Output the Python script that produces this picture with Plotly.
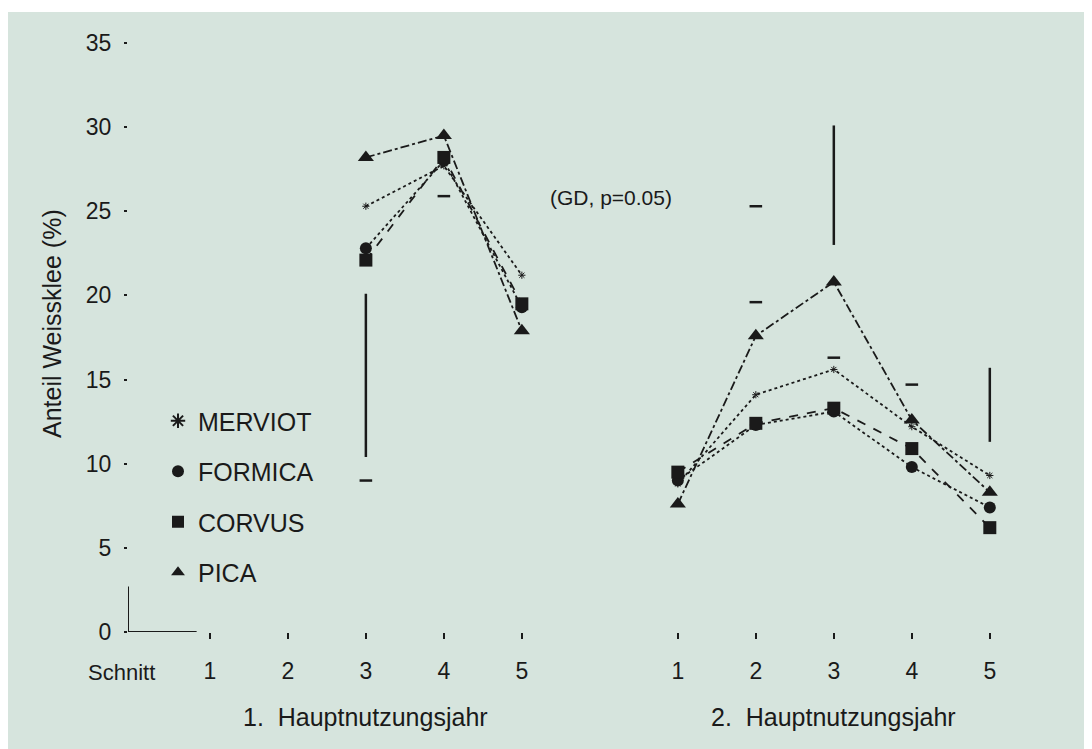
import plotly.graph_objects as go

# ---------------- data ----------------
schnitt_labels = ["1", "2", "3", "4", "5", "1", "2", "3", "4", "5"]
schnitt_pos = [1, 2, 3, 4, 5, 7, 8, 9, 10, 11]

merviot = [None, None, 25.3, 27.7, 21.2, 8.8, 14.1, 15.6, 12.2, 9.3]
formica = [None, None, 22.8, 28.0, 19.3, 9.0, 12.3, 13.1, 9.8, 7.4]
corvus = [None, None, 22.1, 28.2, 19.5, 9.5, 12.4, 13.3, 10.9, 6.2]
pica = [None, None, 28.2, 29.5, 17.9, 7.6, 17.6, 20.8, 12.6, 8.3]

gd_x = [3, 9, 11]
gd_low = [10.4, 23.0, 11.3]
gd_high = [20.1, 30.1, 15.7]

mark_x = [3, 4, 8, 8, 9, 10]
mark_y = [9.0, 25.9, 25.3, 19.6, 16.3, 14.7]

year_labels = ["1.  Hauptnutzungsjahr", "2.  Hauptnutzungsjahr"]
year_centers = [3, 9]

BG = "#d6e4dd"
INK = "#1a1a1a"
FONT = "Liberation Sans, Arial, sans-serif"

# figure geometry (page has an 8px body margin)
W, H = 1084, 741
ML, MR, MT, MB = 120, 32, 35, 117
PW, PH = W - ML - MR, H - MT - MB


def px(fx):
    return (fx - ML) / PW


def py(fy):
    return (H - MB - fy) / PH


def with_break(vals):
    xs, ys = [], []
    for i, (p, v) in enumerate(zip(schnitt_pos, vals)):
        if i == 5:
            xs.append(None)
            ys.append(None)
        xs.append(p)
        ys.append(v)
    return xs, ys


series = [
    ("MERVIOT", merviot, dict(symbol="asterisk-open", size=6, color=INK, line=dict(width=1, color=INK)), "dot"),
    ("FORMICA", formica, dict(symbol="circle", size=12, color=INK), "dot"),
    ("CORVUS", corvus, dict(symbol="square", size=13, color=INK), "dash"),
    ("PICA", pica, dict(symbol="triangle-up", size=14, color=INK), "dashdot"),
]

fig = go.Figure()

for name, vals, mk, dash in series:
    xs, ys = with_break(vals)
    fig.add_trace(go.Scatter(
        x=xs, y=ys, mode="lines", showlegend=False, hoverinfo="skip",
        line=dict(color=INK, width=1.8, dash=dash),
    ))

for name, vals, mk, dash in series:
    xs, ys = with_break(vals)
    fig.add_trace(go.Scatter(
        x=xs, y=ys, mode="markers", name=name, legendgroup=name,
        marker=mk,
    ))

# GD bars
for gx, lo, hi in zip(gd_x, gd_low, gd_high):
    fig.add_trace(go.Scatter(
        x=[gx, gx], y=[lo, hi], mode="lines", showlegend=False,
        line=dict(color=INK, width=2.5),
    ))

fig.add_trace(go.Scatter(
    x=mark_x, y=mark_y, mode="markers", showlegend=False,
    marker=dict(symbol="line-ew", size=9, line=dict(width=2.5, color=INK)),
))

# partial axis corner
fig.add_shape(type="line", x0=-0.05, x1=0.83, y0=0, y1=0,
              line=dict(color=INK, width=2))
fig.add_shape(type="line", x0=-0.05, x1=-0.05, y0=0, y1=2.7,
              line=dict(color=INK, width=2))

# thin white strip at the very top
fig.add_shape(type="rect", xref="paper", yref="paper",
              x0=px(0), x1=px(W), y0=py(4), y1=py(0),
              fillcolor="white", line=dict(width=0), layer="above")

fig.add_annotation(x=6.14, y=25.8, text="(GD, p=0.05)", showarrow=False,
                   font=dict(size=21, color=INK, family=FONT))
fig.add_annotation(xref="paper", yref="paper", x=px(113), y=py(664),
                   xanchor="center", yanchor="middle",
                   text="Schnitt", showarrow=False,
                   font=dict(size=22, color=INK, family=FONT))
for lab, cx in zip(year_labels, year_centers):
    fig.add_annotation(xref="x", yref="paper", x=cx, y=py(709), text=lab,
                       xanchor="center", yanchor="middle",
                       showarrow=False, font=dict(size=25, color=INK, family=FONT))
fig.add_annotation(xref="paper", yref="y", x=px(44), y=18.3,
                   xanchor="center", yanchor="middle",
                   text="Anteil Weissklee (%)", textangle=-90, showarrow=False,
                   font=dict(size=25, color=INK, family=FONT))

fig.update_layout(
    width=W, height=H,
    margin=dict(l=ML, r=MR, t=MT, b=MB),
    paper_bgcolor=BG, plot_bgcolor=BG,
    font=dict(family=FONT, color=INK, size=22),
    showlegend=True,
    legend=dict(x=px(150), y=py(390), xanchor="left", yanchor="top",
                bgcolor="rgba(0,0,0,0)", font=dict(size=25, color=INK, family=FONT),
                traceorder="grouped", tracegroupgap=15, itemsizing="constant"),
    xaxis=dict(range=[-0.05, 11.9], tickvals=schnitt_pos, ticktext=schnitt_labels,
               showgrid=False, zeroline=False, showline=False,
               ticks="outside", ticklen=6, tickwidth=1.5, tickcolor=INK,
               ticklabelstandoff=12, tickfont=dict(size=23)),
    yaxis=dict(range=[0, 35], tickvals=[0, 5, 10, 15, 20, 25, 30, 35],
               showgrid=False, zeroline=False, showline=False,
               ticks="outside", ticklen=3, tickwidth=2, tickcolor=INK,
               ticklabelstandoff=8, tickfont=dict(size=23)),
)

fig.write_html("out.html")
